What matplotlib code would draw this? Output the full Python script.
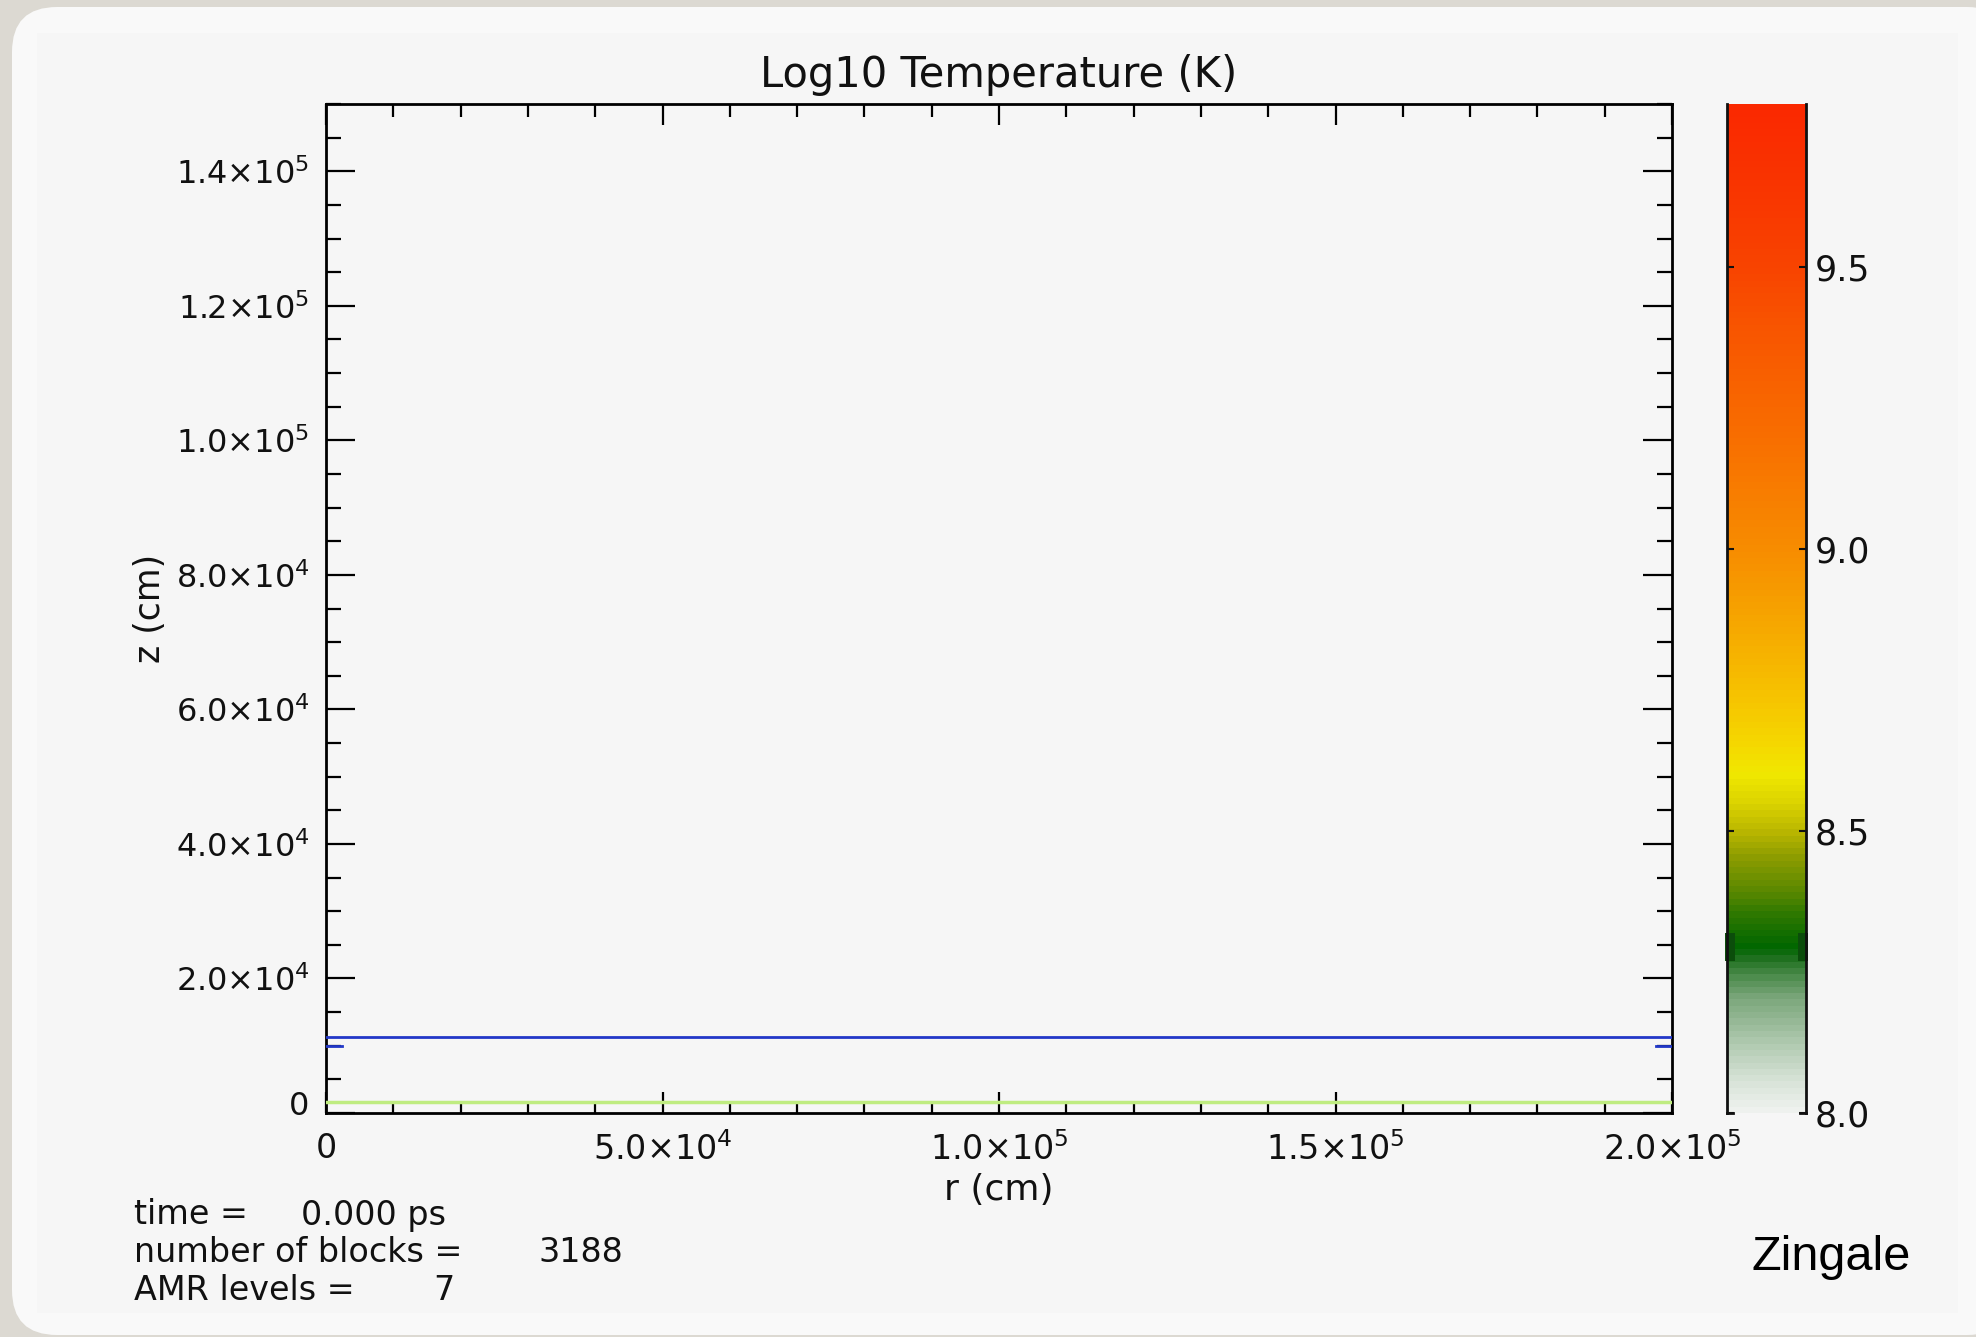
import numpy as np
import matplotlib
matplotlib.use("Agg")
import matplotlib.pyplot as plt
from matplotlib.colors import LinearSegmentedColormap, Normalize
from matplotlib.cm import ScalarMappable
from matplotlib.patches import FancyBboxPatch, Rectangle
from matplotlib.transforms import IdentityTransform, offset_copy

# ---------------- data ----------------
r_extent = [0.0, 2.0e5]          # radial extent (cm)
z_extent = [0.0, 1.5e5]          # vertical extent (cm)
z_blue_front = 1.13e4            # blue contour height (cm)
z_blue_mark = 1.0e4              # short blue marks at the edges (cm)
z_green_front = 1.6e3            # green contour height (cm)

x_major = [0.0, 5.0e4, 1.0e5, 1.5e5, 2.0e5]
x_tick_labels = ['0', r'$5.0{\times}10^{4}$', r'$1.0{\times}10^{5}$',
                 r'$1.5{\times}10^{5}$', r'$2.0{\times}10^{5}$']
y_major = [0.0, 2.0e4, 4.0e4, 6.0e4, 8.0e4, 1.0e5, 1.2e5, 1.4e5]
y_tick_labels = ['0', r'$2.0{\times}10^{4}$', r'$4.0{\times}10^{4}$',
                 r'$6.0{\times}10^{4}$', r'$8.0{\times}10^{4}$',
                 r'$1.0{\times}10^{5}$', r'$1.2{\times}10^{5}$',
                 r'$1.4{\times}10^{5}$']

temp_range = [8.0, 9.79]         # log10 T colour scale limits
cbar_ticks = [8.0, 8.5, 9.0, 9.5]
cbar_tick_labels = ['8.0', '8.5', '9.0', '9.5']
marker_level = [8.27, 8.32]      # highlighted band on the colour bar

# colour table anchors (log10 T, colour)
cmap_levels = [8.00, 8.05, 8.11, 8.20, 8.24, 8.27, 8.29, 8.35, 8.39, 8.45,
               8.50, 8.55, 8.60, 8.65, 8.75, 8.90, 9.00, 9.20, 9.40, 9.50,
               9.65, 9.79]
cmap_colors = ['#eef1ee', '#d8e3d8', '#b5cdb5', '#7aa67a', '#4a8a4a',
               '#1f701f', '#006600', '#2e7800', '#5a8800', '#8c9c00',
               '#bcb800', '#dcd400', '#f0e800', '#f5d800', '#f6c000',
               '#f6a000', '#f78c00', '#f86e00', '#f85400', '#f84400',
               '#f93400', '#fa2800']

info_labels = ['time =', 'number of blocks =', 'AMR levels =']
info_values = ['0.000 ps', '3188', '7']

# ---------------- figure ----------------
W, H, DPI = 1976, 1337, 100
fig = plt.figure(figsize=(W / DPI, H / DPI), dpi=DPI)
fig.patch.set_facecolor('#dcd9d2')
plt.rcParams['font.family'] = ['DejaVu Sans']
plt.rcParams['mathtext.fontset'] = 'dejavusans'

# rounded panel behind the plot
panel = FancyBboxPatch((12, 2), 2000, 1328,
                       boxstyle="round,pad=0,rounding_size=45",
                       transform=IdentityTransform(), facecolor='#f9f9f9',
                       edgecolor='none', zorder=-10)
fig.patches.append(panel)
inner = Rectangle((37, 24), 1921, 1280, transform=IdentityTransform(),
                  facecolor='#f6f6f6', edgecolor='none', zorder=-9)
fig.patches.append(inner)

def fx(px):
    return px / W

def fy(py):
    return 1 - py / H

ax_l, ax_r, ax_t, ax_b = 326, 1672, 104, 1113
ax = fig.add_axes([fx(ax_l), fy(ax_b), fx(ax_r - ax_l), (ax_b - ax_t) / H])
ax.set_facecolor('#f6f6f6')
ax.set_xlim(*r_extent)
ax.set_ylim(*z_extent)

# contours
ax.plot(r_extent, [z_blue_front] * 2, color='#2238c8', lw=2.0, zorder=3)
ax.plot(r_extent, [z_green_front] * 2, color='#bfec80', lw=2.5, zorder=3)
for x0, x1 in [(0.0, 0.012), (0.988, 1.0)]:
    ax.plot([x0, x1], [z_blue_mark] * 2, color='#2238c8', lw=2.0,
            transform=ax.get_yaxis_transform(), zorder=4)

# axes styling
for s in ax.spines.values():
    s.set_linewidth(2.0)
ax.set_xticks(x_major)
ax.set_xticklabels(x_tick_labels)
ax.set_xticks(np.arange(0, 2.0e5 + 1, 1.0e4), minor=True)
ax.set_yticks(y_major)
ax.set_yticklabels(y_tick_labels)
ax.set_yticks(np.arange(0, 1.5e5 + 1, 5.0e3), minor=True)
ax.tick_params(axis='x', which='both', direction='in', top=True,
               bottom=True, width=1.6, labelsize=24, pad=14)
ax.tick_params(axis='x', which='major', length=15)
ax.tick_params(axis='x', which='minor', length=9)
ax.tick_params(axis='y', which='both', direction='in', left=True,
               right=True, width=1.6, labelsize=23, pad=12)
ax.tick_params(axis='y', which='major', length=21)
ax.tick_params(axis='y', which='minor', length=11)
for lab in ax.get_xticklabels() + ax.get_yticklabels():
    lab.set_color('#111111')
# the zero label on the z axis sits a little above its tick
zero_lab = ax.yaxis.get_major_ticks()[0].label1
zero_lab.set_transform(offset_copy(zero_lab.get_transform(), fig=fig,
                                   x=0, y=10, units='dots'))

ax.set_title('Log10 Temperature (K)', fontsize=30, pad=12, color='#111111')
ax.set_xlabel('r (cm)', fontsize=26, labelpad=4, color='#111111')
ax.set_ylabel('z (cm)', fontsize=25, labelpad=6, color='#111111')

# ---------------- colour bar ----------------
cmap = LinearSegmentedColormap.from_list(
    'temp', [((v - temp_range[0]) / (temp_range[1] - temp_range[0]), c)
             for v, c in zip(cmap_levels, cmap_colors)], N=160)
norm = Normalize(vmin=temp_range[0], vmax=temp_range[1])
cb_l, cb_r = 1727, 1806
cax = fig.add_axes([fx(cb_l), fy(ax_b), fx(cb_r - cb_l), (ax_b - ax_t) / H])
cbar = fig.colorbar(ScalarMappable(norm=norm, cmap=cmap), cax=cax)
cbar.outline.set_visible(False)
cbar.set_ticks(cbar_ticks)
cbar.set_ticklabels(cbar_tick_labels)
cax.tick_params(axis='y', direction='in', left=True, right=True, length=5,
                width=1.5, labelsize=25, pad=6, colors='#111111')
for xs in ([0, 0], [1, 1]):
    cax.plot(xs, [0, 1], color='#111111', lw=2.0, transform=cax.transAxes,
             clip_on=False, zorder=5)
for xs in ([0, 0.08], [0.92, 1]):
    cax.plot(xs, [0, 0], color='#111111', lw=2.0, transform=cax.transAxes,
             clip_on=False, zorder=5)
for x0 in (-0.02, 0.90):
    cax.add_patch(Rectangle((x0, marker_level[0]), 0.12,
                            marker_level[1] - marker_level[0],
                            transform=cax.get_yaxis_transform(),
                            facecolor='#0b4d0b', edgecolor='none',
                            clip_on=False, zorder=4))

# ---------------- annotations ----------------
info_y = [1215, 1253, 1291]
value_x = [301, 538, 433]
for lab, val, yy, vx in zip(info_labels, info_values, info_y, value_x):
    fig.text(fx(134), fy(yy), lab, fontsize=24, va='center', ha='left',
             color='#111111')
    fig.text(fx(vx), fy(yy), val, fontsize=24, va='center', ha='left',
             color='#111111')

fig.text(fx(1751), fy(1258), 'Zingale', fontsize=35, va='center', ha='left',
         family='Liberation Sans', color='black')

fig.savefig('out.png', dpi=DPI, facecolor=fig.get_facecolor())
